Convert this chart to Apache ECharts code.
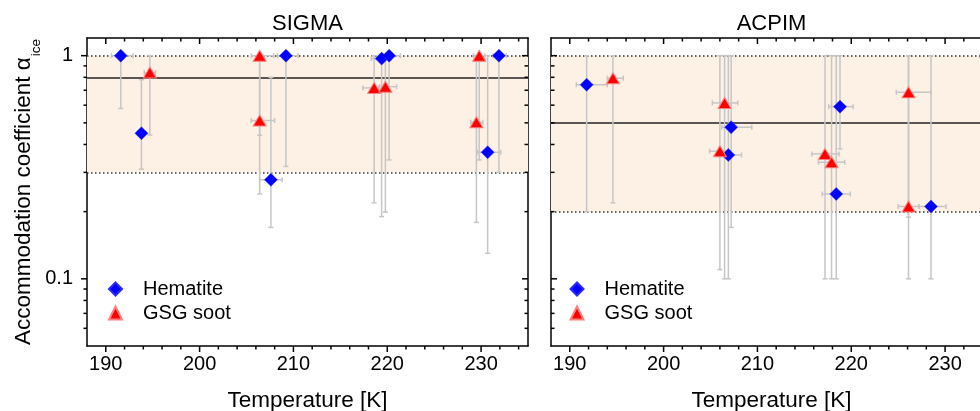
<!DOCTYPE html>
<html>
<head>
<meta charset="utf-8">
<script src="https://cdn.jsdelivr.net/npm/echarts@6/dist/echarts.min.js"></script>
<style>
  html, body { margin: 0; padding: 0; background: #fff; }
  #chart { width: 980px; height: 411px; }
</style>
</head>
<body>
<div id="chart"></div>
<script>
// SIGMA, hematite: temperature [K], alpha_ice, alpha bounds, temperature bounds
const sigmaHemT = [191.6, 193.8, 207.6, 209.2, 219.4, 220.2, 230.7, 231.9]
const sigmaHemA = [1.0, 0.449, 0.278, 1.0, 0.97, 1.0, 0.369, 1.0]
const sigmaHemALo = [0.58, 0.31, 0.17, 0.319, 0.19, 0.341, 0.13, 0.30]
const sigmaHemAHi = [1.0, 0.78, 0.80, 1.0, 1.0, 1.0, 1.0, 1.0]
const sigmaHemTLo = [190.6, 193.5, 206.4, 208.3, 218.3, 219.3, 229.6, 231.3]
const sigmaHemTHi = [192.9, 194.1, 208.8, 210.5, 220.4, 221.4, 232.1, 232.7]

// SIGMA, GSG soot
const sigmaSootT = [194.7, 206.4, 206.4, 218.6, 219.8, 229.5, 229.8]
const sigmaSootA = [0.84, 1.0, 0.512, 0.717, 0.726, 0.503, 1.0]
const sigmaSootALo = [0.441, 0.44, 0.24, 0.219, 0.199, 0.179, 0.341]
const sigmaSootAHi = [1.0, 1.0, 1.0, 1.0, 1.0, 1.0, 1.0]
const sigmaSootTLo = [194.1, 205.5, 205.5, 217.4, 219.2, 228.9, 229.2]
const sigmaSootTHi = [195.3, 207.9, 208.0, 219.1, 221.0, 230.2, 230.4]

// ACPIM, hematite
const acpimHemT = [191.8, 207.2, 206.9, 218.8, 218.4, 228.5]
const acpimHemA = [0.741, 0.478, 0.359, 0.591, 0.24, 0.211]
const acpimHemALo = [0.2, 0.17, 0.1, 0.382, 0.1, 0.1]
const acpimHemAHi = [1.0, 1.0, 1.0, 1.0, 1.0, 1.0]
const acpimHemTLo = [190.7, 206.2, 206.5, 217.6, 216.9, 227.2]
const acpimHemTHi = [194.0, 209.4, 208.3, 220.2, 219.9, 230.1]

// ACPIM, GSG soot
const acpimSootT = [194.6, 206.5, 206.0, 217.2, 217.9, 226.1, 226.1]
const acpimSootA = [0.792, 0.614, 0.373, 0.363, 0.333, 0.685, 0.211]
const acpimSootALo = [0.219, 0.1, 0.11, 0.1, 0.1, 0.1, 0.189]
const acpimSootAHi = [1.0, 1.0, 1.0, 1.0, 1.0, 1.0, 1.0]
const acpimSootTLo = [194.0, 205.2, 204.9, 215.8, 216.5, 224.8, 225.0]
const acpimSootTHi = [195.7, 207.9, 206.9, 218.7, 219.3, 228.5, 227.2]

// reference levels: [lower dotted, upper dotted], solid line
const sigmaBand = [0.3, 1.0]
const sigmaMean = 0.8
const acpimBand = [0.2, 1.0]
const acpimMean = 0.5

const xMajorTicks = [190, 200, 210, 220, 230]
const xMinorTicks = [192, 194, 196, 198, 202, 204, 206, 208, 212, 214, 216, 218, 222, 224, 226, 228, 232, 234]
const yMajorTicks = [0.1, 1]
const yMinorTicks = [0.06, 0.07, 0.08, 0.09, 0.2, 0.3, 0.4, 0.5, 0.6, 0.7, 0.8, 0.9]
const yLabels = ['0.1', '1']

const FONT = 'Liberation Sans, Arial, sans-serif'
const ERR_COLOR = '#c6c6c6'
const BAND_COLOR = '#fdf0e4'

const zip = (t, a, lo, hi, tlo, thi) => t.map((v, i) => [v, a[i], lo[i], hi[i], tlo[i], thi[i]])
const pts = (t, a) => t.map((v, i) => [v, a[i]])

const chart = echarts.init(document.getElementById('chart'), null, { renderer: 'canvas' })

function errorBarItem(params, api) {
  const t = api.value(0)
  const a = api.value(1)
  const pLo = api.coord([t, api.value(2)])
  const pHi = api.coord([t, api.value(3)])
  const pL = api.coord([api.value(4), a])
  const pR = api.coord([api.value(5), a])
  const c = 2.5
  const st = () => ({ stroke: ERR_COLOR, lineWidth: 1.5, fill: null })
  return {
    type: 'group',
    children: [
      { type: 'line', shape: { x1: pLo[0], y1: pLo[1], x2: pHi[0], y2: pHi[1] }, style: st() },
      { type: 'line', shape: { x1: pLo[0] - c, y1: pLo[1], x2: pLo[0] + c, y2: pLo[1] }, style: st() },
      { type: 'line', shape: { x1: pHi[0] - c, y1: pHi[1], x2: pHi[0] + c, y2: pHi[1] }, style: st() },
      { type: 'line', shape: { x1: pL[0], y1: pL[1], x2: pR[0], y2: pR[1] }, style: st() },
      { type: 'line', shape: { x1: pL[0], y1: pL[1] - c, x2: pL[0], y2: pL[1] + c }, style: st() },
      { type: 'line', shape: { x1: pR[0], y1: pR[1] - c, x2: pR[0], y2: pR[1] + c }, style: st() },
    ],
  }
}

// y ticks on both frame sides; leftOut = ticks point away from the plot on the left side
const yTickItem = (leftOut) => (params, api) => {
  const cs = params.coordSys
  const y = api.coord([200, api.value(1)])[1]
  const len = api.value(2)
  const xl = cs.x
  const xr = cs.x + cs.width
  const st = () => ({ stroke: '#000', lineWidth: 1.5 })
  return {
    type: 'group',
    children: [
      { type: 'line', shape: { x1: leftOut ? xl - len : xl, y1: y, x2: leftOut ? xl : xl + len, y2: y }, style: st() },
      { type: 'line', shape: { x1: xr - len, y1: y, x2: xr, y2: y }, style: st() },
    ],
  }
}

// x ticks: outward at bottom, inward at top
const xTickItem = (params, api) => {
  const cs = params.coordSys
  const x = api.coord([api.value(0), 1])[0]
  const len = api.value(2)
  const yb = cs.y + cs.height
  const st = () => ({ stroke: '#000', lineWidth: 1.5 })
  return {
    type: 'group',
    children: [
      { type: 'line', shape: { x1: x, y1: yb, x2: x, y2: yb + len }, style: st() },
      { type: 'line', shape: { x1: x, y1: cs.y, x2: x, y2: cs.y + len }, style: st() },
    ],
  }
}

const yTickData = yMajorTicks.map((v) => [200, v, 6]).concat(yMinorTicks.map((v) => [200, v, 3.5]))
const xTickData = xMajorTicks.map((v) => [v, 1, 6]).concat(xMinorTicks.map((v) => [v, 1, 3.5]))

const axisLine = { show: true, onZero: false, lineStyle: { color: '#000', width: 1.5 } }
const nameStyle = { fontSize: 22.5, color: '#000', fontFamily: FONT }

const xAxisBottom = (gridIndex) => ({
  type: 'value',
  gridIndex,
  min: 188,
  max: 235,
  interval: 2,
  position: 'bottom',
  axisLine,
  axisTick: { show: false },
  splitLine: { show: false },
  axisLabel: {
    margin: 8,
    fontSize: 20,
    color: '#000',
    fontFamily: FONT,
    formatter: (v) => (xMajorTicks.includes(v) ? String(v) : ''),
  },
  name: 'Temperature [K]',
  nameLocation: 'middle',
  nameGap: 43,
  nameMoveOverlap: false,
  nameTextStyle: nameStyle,
})

const xAxisTop = (gridIndex) => ({
  type: 'value',
  gridIndex,
  min: 188,
  max: 235,
  position: 'top',
  axisLine,
  axisTick: { show: false },
  axisLabel: { show: false },
  splitLine: { show: false },
})

const yAxisLog = (gridIndex, position, showLabels) => ({
  type: 'log',
  logBase: 10,
  gridIndex,
  min: 0.05,
  max: 1.2,
  position,
  axisLine,
  axisTick: { show: false },
  splitLine: { show: false },
  minorSplitLine: { show: false },
  axisLabel: {
    show: showLabels,
    margin: 14,
    fontSize: 20,
    color: '#000',
    fontFamily: FONT,
    showMinLabel: true,
    showMaxLabel: true,
    formatter: (v) => {
      const i = yMajorTicks.findIndex((m) => Math.abs(m - v) < 1e-9)
      return i >= 0 ? yLabels[i] : ''
    },
  },
})

const yName = {
  name: '{a|Accommodation coefficient α}{b|ice}',
  nameLocation: 'middle',
  nameRotate: 90,
  nameGap: 52,
  nameMoveOverlap: false,
  nameTextStyle: {
    color: '#000',
    fontFamily: FONT,
    rich: {
      a: { fontSize: 22.5, fontFamily: FONT, color: '#000' },
      b: { fontSize: 13.5, lineHeight: 13, padding: [25, 0, 0, 1], fontFamily: FONT, color: '#000' },
    },
  },
}

const refMarkers = (band, mean) => ({
  markArea: {
    silent: true,
    z: 1,
    itemStyle: { color: BAND_COLOR },
    data: [[{ yAxis: band[0] }, { yAxis: band[1] }]],
  },
  markLine: {
    silent: true,
    z: 2,
    symbol: 'none',
    label: { show: false },
    data: [
      { yAxis: band[1], lineStyle: { type: [1.5, 2.5], color: '#333', width: 1.5 } },
      { yAxis: band[0], lineStyle: { type: [1.5, 2.5], color: '#333', width: 1.5 } },
      { yAxis: mean, lineStyle: { type: 'solid', color: '#222', width: 1.5 } },
    ],
  },
})

const hemStyle = { symbol: 'diamond', symbolSize: 13, itemStyle: { color: '#0000ff', opacity: 1, borderColor: '#2a2aff', borderWidth: 0.5 } }
const sootStyle = { symbol: 'triangle', symbolSize: [13, 11], itemStyle: { color: '#ff0000', opacity: 1, borderColor: '#ff7f7f', borderWidth: 1 } }

const errSeries = (name, data, xi, yi, extra) =>
  Object.assign(
    {
      name,
      type: 'custom',
      xAxisIndex: xi,
      yAxisIndex: yi,
      z: 3,
      silent: true,
      clip: false,
      renderItem: errorBarItem,
      encode: { x: [0, 4, 5], y: [1, 2, 3] },
      data,
    },
    extra || {}
  )

const scatter = (name, data, xi, yi, style) =>
  Object.assign({ name, type: 'scatter', xAxisIndex: xi, yAxisIndex: yi, z: 5, data }, style)

const legend = (left) => ({
  data: ['Hematite', 'GSG soot'],
  orient: 'vertical',
  left,
  top: 279,
  itemWidth: 13,
  itemHeight: 13,
  itemGap: 4,
  padding: 0,
  selectedMode: false,
  itemStyle: { opacity: 1 },
  textStyle: { fontSize: 20, color: '#000', fontFamily: FONT, padding: [0, 0, 0, 16] },
})

const option = {
  animation: false,
  backgroundColor: '#fff',
  textStyle: { fontFamily: FONT },
  title: [
    { text: 'SIGMA', left: 307.5, top: 13, textAlign: 'center', padding: 0, textStyle: { fontSize: 22, fontWeight: 'normal', color: '#000', fontFamily: FONT } },
    { text: 'ACPIM', left: 771.5, top: 13, textAlign: 'center', padding: 0, textStyle: { fontSize: 22, fontWeight: 'normal', color: '#000', fontFamily: FONT } },
  ],
  legend: [legend(108), legend(569.5)],
  grid: [
    { left: 87, top: 38, width: 441, height: 308, outerBoundsMode: 'none' },
    { left: 551, top: 38, width: 441, height: 308, outerBoundsMode: 'none' },
  ],
  xAxis: [xAxisBottom(0), xAxisTop(0), xAxisBottom(1), xAxisTop(1)],
  yAxis: [
    Object.assign(yAxisLog(0, 'left', true), yName),
    yAxisLog(0, 'right', false),
    yAxisLog(1, 'left', false),
    yAxisLog(1, 'right', false),
  ],
  series: [
    errSeries('sigma-hem-err', zip(sigmaHemT, sigmaHemA, sigmaHemALo, sigmaHemAHi, sigmaHemTLo, sigmaHemTHi), 0, 0, refMarkers(sigmaBand, sigmaMean)),
    errSeries('sigma-soot-err', zip(sigmaSootT, sigmaSootA, sigmaSootALo, sigmaSootAHi, sigmaSootTLo, sigmaSootTHi), 0, 0),
    errSeries('acpim-hem-err', zip(acpimHemT, acpimHemA, acpimHemALo, acpimHemAHi, acpimHemTLo, acpimHemTHi), 2, 2, refMarkers(acpimBand, acpimMean)),
    errSeries('acpim-soot-err', zip(acpimSootT, acpimSootA, acpimSootALo, acpimSootAHi, acpimSootTLo, acpimSootTHi), 2, 2),
    scatter('Hematite', pts(sigmaHemT, sigmaHemA), 0, 0, hemStyle),
    scatter('GSG soot', pts(sigmaSootT, sigmaSootA), 0, 0, sootStyle),
    scatter('Hematite', pts(acpimHemT, acpimHemA), 2, 2, hemStyle),
    scatter('GSG soot', pts(acpimSootT, acpimSootA), 2, 2, sootStyle),
    { type: 'custom', xAxisIndex: 0, yAxisIndex: 0, z: 6, silent: true, clip: false, renderItem: yTickItem(true), encode: { x: 0, y: 1 }, data: yTickData },
    { type: 'custom', xAxisIndex: 0, yAxisIndex: 0, z: 6, silent: true, clip: false, renderItem: xTickItem, encode: { x: 0, y: 1 }, data: xTickData },
    { type: 'custom', xAxisIndex: 2, yAxisIndex: 2, z: 6, silent: true, clip: false, renderItem: yTickItem(false), encode: { x: 0, y: 1 }, data: yTickData },
    { type: 'custom', xAxisIndex: 2, yAxisIndex: 2, z: 6, silent: true, clip: false, renderItem: xTickItem, encode: { x: 0, y: 1 }, data: xTickData },
  ],
}

chart.setOption(option)
window.addEventListener('resize', () => chart.resize())
</script>
</body>
</html>
